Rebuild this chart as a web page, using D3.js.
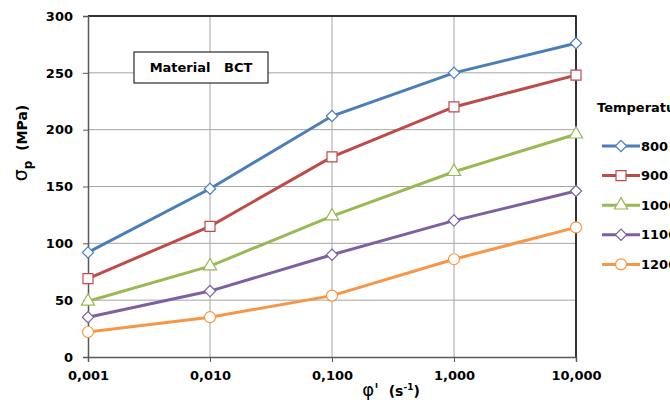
<!DOCTYPE html>
<html>
<head>
<meta charset="utf-8">
<script src="https://cdn.jsdelivr.net/npm/d3@7"></script>
<style>
  body { margin: 0; background: #fff; }
  svg { display: block; font-family: "DejaVu Sans", "Open Sans", sans-serif; }
</style>
</head>
<body>
<svg width="670" height="404"></svg>
<script>
// strain rates (s-1) and peak stress (MPa)
var rates = [0.001, 0.01, 0.1, 1, 10]
var rateLabels = ["0,001", "0,010", "0,100", "1,000", "10,000"]
var yTicks = [0, 50, 100, 150, 200, 250, 300]

var temps = ["800 °C", "900 °C", "1000 °C", "1100 °C", "1200 °C"]
var s800 = [92, 148, 212, 250, 276]
var s900 = [69, 115, 176, 220, 248]
var s1000 = [49, 80, 124, 163, 196]
var s1100 = [35, 58, 90, 120, 146]
var s1200 = [22, 35, 54, 86, 114]

var colors = ["#4a7ebb", "#be4b48", "#98b954", "#7d60a0", "#f79646"]
// diamond = square turned 45 degrees
var shapes = [d3.symbolSquare, d3.symbolSquare, d3.symbolTriangle, d3.symbolSquare, d3.symbolCircle]
var rot = [45, 0, 0, 45, 0]
var sizes = [64, 100, 75, 64, 95]

var series = [s800, s900, s1000, s1100, s1200].map((v, i) => ({name: temps[i], values: v, color: colors[i], shape: shapes[i], size: sizes[i], rot: rot[i]}))

var mLeft = 88, mRight = 576, mTop = 16, mBottom = 357

var svg = d3.select("svg")

var x = d3.scaleLog().domain([0.001, 10]).range([mLeft, mRight])
var y = d3.scaleLinear().domain([0, 300]).range([mBottom, mTop])

// grid
svg.append("g").selectAll("line").data(yTicks.slice(1)).enter().append("line")
	.attr("x1", mLeft).attr("x2", mRight)
	.attr("y1", d => y(d)).attr("y2", d => y(d))
	.style("stroke", "#a6a6a6").style("stroke-width", 1)
svg.append("g").selectAll("line").data(rates.slice(1)).enter().append("line")
	.attr("x1", d => x(d)).attr("x2", d => x(d))
	.attr("y1", mTop).attr("y2", mBottom)
	.style("stroke", "#a6a6a6").style("stroke-width", 1)

// frame top/right
svg.append("path")
	.attr("d", "M" + mLeft + "," + mTop + "H" + mRight + "V" + mBottom)
	.style("fill", "none").style("stroke", "#000").style("stroke-width", 1.5)

// axes
var yAxis = svg.append("g").attr("transform", "translate(" + mLeft + ",0)")
	.call(d3.axisLeft(y).tickValues(yTicks).tickSize(5).tickPadding(10))
var xAxis = svg.append("g").attr("transform", "translate(0," + mBottom + ")")
	.call(d3.axisBottom(x).tickValues(rates).tickFormat((d, i) => rateLabels[i]).tickSize(5).tickPadding(9))
;[yAxis, xAxis].forEach(a => {
	a.select(".domain").style("stroke", "#595959").style("stroke-width", 1.5)
	a.selectAll(".tick line").style("stroke", "#595959")
	a.selectAll("text").style("font-size", "13px").style("font-weight", "bold").style("fill", "#000")
		.style("font-family", "'DejaVu Sans', sans-serif")
})

// material box
svg.append("rect").attr("x", 134).attr("y", 52).attr("width", 134).attr("height", 31)
	.style("fill", "#fff").style("stroke", "#000").style("stroke-width", 1)
svg.append("text").attr("x", 201).attr("y", 72).attr("text-anchor", "middle")
	.style("font-size", "13px").style("font-weight", "bold")
	.attr("xml:space", "preserve").text("Material   BCT")

// lines + markers
var line = d3.line().x((d, i) => x(rates[i])).y(d => y(d))
series.forEach(s => {
	svg.append("path").datum(s.values).attr("d", line)
		.style("fill", "none").style("stroke", s.color).style("stroke-width", 3)
	svg.append("g").selectAll("path").data(s.values).enter().append("path")
		.attr("d", d3.symbol().type(s.shape).size(s.size))
		.attr("transform", (d, i) => "translate(" + x(rates[i]) + "," + y(d) + ") rotate(" + s.rot + ")")
		.style("fill", "#fff").style("stroke", s.color).style("stroke-width", 1.2)
})

// axis titles
var yt = svg.append("text").attr("transform", "translate(27,143) rotate(-90)")
	.attr("text-anchor", "middle").style("font-size", "14px").style("font-weight", "bold")
yt.append("tspan").text("σ").style("font-size", "19px").style("font-weight", "normal")
yt.append("tspan").text("p").attr("dy", 5).style("font-size", "12px")
yt.append("tspan").text("  (MPa)").attr("dy", -5).attr("xml:space", "preserve")

var xt = svg.append("text").attr("x", 391).attr("y", 396).attr("text-anchor", "middle")
	.style("font-size", "14px").style("font-weight", "bold")
xt.append("tspan").text("φ'").style("font-size", "18px").style("font-weight", "normal")
xt.append("tspan").text("  (s").attr("xml:space", "preserve")
xt.append("tspan").text("-1").attr("dy", -6).style("font-size", "9px")
xt.append("tspan").text(")").attr("dy", 6)

// legend
svg.append("text").attr("x", 597).attr("y", 112).style("font-size", "13px").style("font-weight", "bold").text("Temperature")
var leg = svg.append("g").selectAll("g").data(series).enter().append("g")
	.attr("transform", (d, i) => "translate(602," + (146 + i * 29.6) + ")")
leg.append("line").attr("x1", 0).attr("x2", 38)
	.style("stroke", d => d.color).style("stroke-width", 3)
leg.append("path").attr("d", d => d3.symbol().type(d.shape).size(d.size)())
	.attr("transform", d => "translate(19,0) rotate(" + d.rot + ")")
	.style("fill", "#fff").style("stroke", d => d.color).style("stroke-width", 1.2)
leg.append("text").attr("x", 39).attr("y", 4.5).style("font-size", "13px").style("font-weight", "bold").text(d => d.name)
</script>
</body>
</html>
